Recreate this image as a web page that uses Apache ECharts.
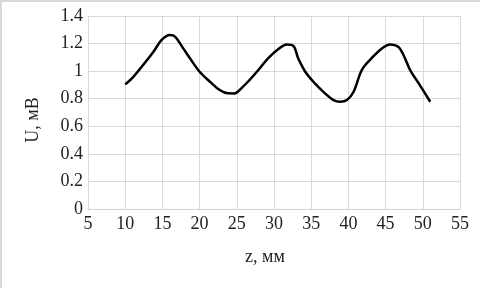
<!DOCTYPE html>
<html>
<head>
<meta charset="utf-8">
<script src="https://cdn.jsdelivr.net/npm/echarts@6/dist/echarts.min.js"></script>
<style>html,body{margin:0;padding:0;background:#fff;}#c{width:480px;height:288px;}</style>
</head>
<body>
<div id="c"></div>
<script>
const zValues = [10,11.1,12.4,13.8,14.9,16.0,16.7,17.8,18.7,20.0,21.4,22.7,23.8,24.7,25.6,26.7,27.9,29.2,30.6,31.7,32.6,33.25,34.2,35.5,36.85,38.0,38.9,39.8,40.7,41.8,43.1,44.5,45.6,46.7,47.4,48.3,49.6,51.0];
const uValues = [0.904,0.959,1.044,1.141,1.226,1.262,1.25,1.165,1.093,0.996,0.923,0.863,0.839,0.838,0.875,0.935,1.008,1.093,1.16,1.194,1.184,1.093,0.996,0.911,0.839,0.79,0.778,0.79,0.851,1.008,1.093,1.165,1.194,1.177,1.117,1.008,0.899,0.778];
const xAxisName = 'z, мм';
const yAxisName = 'U, мВ';

const chart = echarts.init(document.getElementById('c'), null, {renderer: 'canvas'});
const font = '"Liberation Serif", "Times New Roman", serif';
chart.setOption({
  animation: false,
  backgroundColor: '#fff',
  grid: {left: 88, right: 20, top: 16, bottom: 79},
  xAxis: {
    type: 'value', min: 5, max: 55, interval: 5,
    axisLine: {show: true, lineStyle: {color: '#d0d0d0', width: 1}},
    axisTick: {show: false},
    axisLabel: {color: '#222', fontFamily: font, fontSize: 18, margin: 6},
    splitLine: {show: true, lineStyle: {color: '#d9d9d9', width: 1}}
  },
  yAxis: {
    type: 'value', min: 0, max: 1.4, interval: 0.2,
    axisLine: {show: true, lineStyle: {color: '#d9d9d9', width: 1}},
    axisTick: {show: false},
    axisLabel: {color: '#222', fontFamily: font, fontSize: 18, margin: 5,
      formatter: v => String(Math.round(v * 10) / 10)},
    splitLine: {show: true, lineStyle: {color: '#d9d9d9', width: 1}}
  },
  graphic: [
    {type: 'line', shape: {x1: 0, y1: 1, x2: 480, y2: 1}, style: {stroke: '#d9d9d9', lineWidth: 2}},
    {type: 'line', shape: {x1: 1, y1: 0, x2: 1, y2: 288}, style: {stroke: '#d9d9d9', lineWidth: 2}},
    {type: 'text', x: 265, y: 257, style: {text: xAxisName, font: '18px ' + font, fill: '#222', textAlign: 'center', textVerticalAlign: 'middle'}},
    {type: 'text', x: 33, y: 120, rotation: Math.PI / 2, style: {text: yAxisName, font: '18px ' + font, fill: '#222', textAlign: 'center', textVerticalAlign: 'middle'}}
  ],
  series: [{
    type: 'line',
    data: zValues.map((z, i) => [z, uValues[i]]),
    showSymbol: false,
    smooth: 0.35,
    lineStyle: {color: '#000', width: 2.5}
  }]
});
</script>
</body>
</html>
